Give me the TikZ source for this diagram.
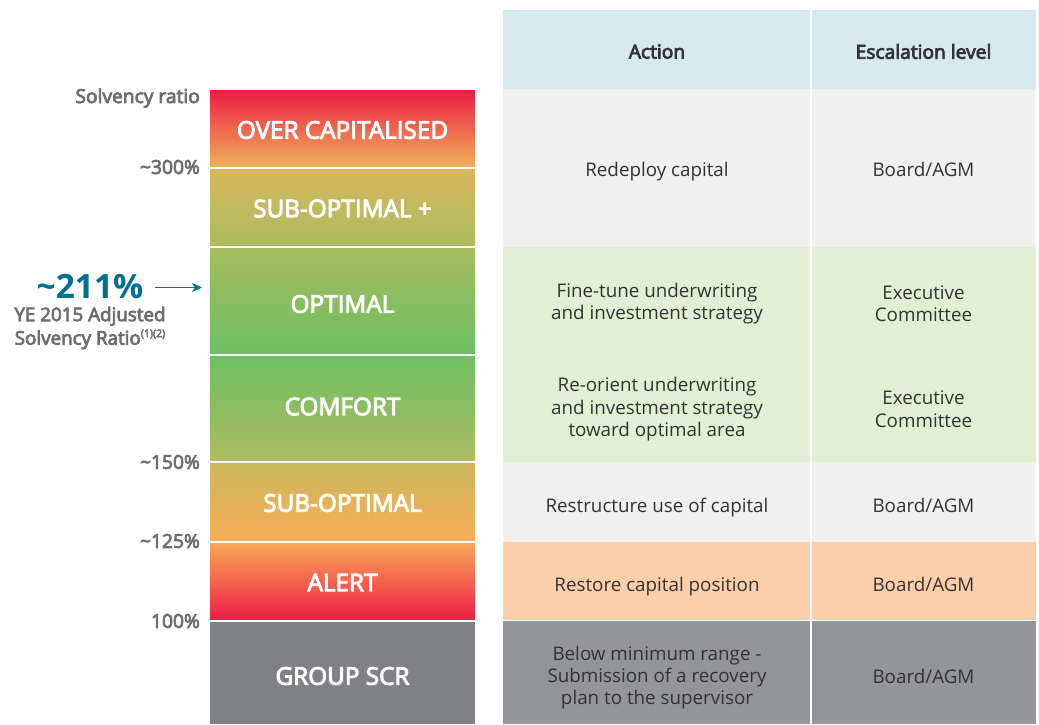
\documentclass[tikz,border=0pt]{standalone}
\usepackage{fontspec}
\setmainfont{Open Sans}
\newfontfamily\sbfont{Open Sans}[FakeBold=4]
\usetikzlibrary{arrows.meta}
\definecolor{cRed}{HTML}{EC1C45}
\definecolor{cOrange}{HTML}{F8AB57}
\definecolor{cOcBot}{HTML}{EFB25A}
\definecolor{cSopTop}{HTML}{D9B65D}
\definecolor{cSopBot}{HTML}{A9BD5F}
\definecolor{cOptTop}{HTML}{A7BD5E}
\definecolor{cOptBot}{HTML}{6CBE63}
\definecolor{cComTop}{HTML}{6DBF63}
\definecolor{cComBot}{HTML}{AEBC60}
\definecolor{cSubTop}{HTML}{C9B75D}
\definecolor{cSubBot}{HTML}{FAAE56}
\definecolor{cAlTop}{HTML}{FAA857}
\definecolor{cAlMid}{HTML}{F4875A}
\definecolor{cScr}{HTML}{808184}
\definecolor{cLabel}{HTML}{6D6E71}
\definecolor{cTeal}{HTML}{00708F}
\definecolor{cHdr}{HTML}{D8E8EF}
\definecolor{cGrayRow}{HTML}{EFF0EF}
\definecolor{cGreenRow}{HTML}{E2EFD4}
\definecolor{cPeach}{HTML}{FCCFAA}
\definecolor{cDarkRow}{HTML}{939598}
\definecolor{cText}{HTML}{333333}
\tikzset{
  zone/.style={rectangle, inner sep=0pt, outer sep=0pt, minimum width=265pt},
  zonetext/.style={text=white, inner sep=0pt, font=\sbfont\fontsize{24.3}{26}\selectfont},
  sepline/.style={white, line width=2pt},
  scale lbl/.style={anchor=east, text=cLabel, inner sep=0pt, font=\sbfont\fontsize{19.2}{20}\selectfont},
  cell/.style={rectangle, inner sep=0pt, outer sep=0pt},
  celltext/.style={align=center, text=cText, inner sep=0pt, font=\fontsize{18.8}{22.2}\selectfont},
  hdrtext/.style={align=center, text=cText, inner sep=0pt, font=\sbfont\fontsize{19.2}{22}\selectfont},
  acol/.style={minimum width=308pt},
  ecol/.style={minimum width=225pt},
  vsep/.style={white, line width=1.5pt}
}
\begin{document}
\begin{tikzpicture}[x=1pt,y=-1pt]
\useasboundingbox[fill=white] (0,0) rectangle (1039,724);
% left bar
\node[zone, minimum height=78pt, top color=cRed, middle color=cOrange, bottom color=cOcBot,
  label={[zonetext, yshift=-1pt]center:OVER CAPITALISED}] (oc) at (342.5,129) {};
\node[zone, minimum height=79pt, top color=cSopTop, bottom color=cSopBot,
  label={[zonetext, yshift=-1pt]center:SUB-OPTIMAL +}] (sop) at (342.5,207.5) {};
\node[zone, minimum height=108pt, top color=cOptTop, bottom color=cOptBot,
  label={[zonetext, yshift=-3pt]center:OPTIMAL}] (opt) at (342.5,301) {};
\node[zone, minimum height=107pt, top color=cComTop, bottom color=cComBot,
  label={[zonetext, yshift=2pt]center:COMFORT}] (com) at (342.5,408.5) {};
\node[zone, minimum height=80pt, top color=cSubTop, bottom color=cSubBot,
  label={[zonetext, yshift=-1pt]center:SUB-OPTIMAL}] (sub) at (342.5,502) {};
\node[zone, minimum height=79pt, top color=cAlTop, middle color=cAlMid, bottom color=cRed,
  label={[zonetext, yshift=-1pt]center:ALERT}] (al) at (342.5,581.5) {};
\node[zone, minimum height=103pt, fill=cScr,
  label={[zonetext, yshift=-3.5pt]center:GROUP SCR}] (scr) at (342.5,672.5) {};
\draw[sepline] (oc.south west) -- (oc.south east);
\draw[sepline] (sop.south west) -- (sop.south east);
\draw[sepline] (opt.south west) -- (opt.south east);
\draw[sepline] (com.south west) -- (com.south east);
\draw[sepline] (sub.south west) -- (sub.south east);
\draw[sepline] (al.south west) -- (al.south east);
% scale labels
\node[scale lbl] (lsr) at (200,98) {Solvency ratio};
\node[scale lbl] (l300) at (200,167) {\textasciitilde300\%};
\node[scale lbl] (l150) at (200,462) {\textasciitilde150\%};
\node[scale lbl] (l125) at (200,541) {\textasciitilde125\%};
\node[scale lbl] (l100) at (200,621) {100\%};
% current ratio
\node[inner sep=0pt, text=cTeal, font=\bfseries\fontsize{33.5}{36}\selectfont] (val) at (90,286.5) {\textasciitilde211\%};
\node[inner sep=0pt, text=cLabel, align=center, font=\sbfont\fontsize{18.8}{23.5}\selectfont] (ye) at (90,328)
  {YE 2015 Adjusted\\Solvency Ratio\raisebox{0.75ex}{\fontsize{10.5}{10.5}\selectfont(1)(2)}};
\coordinate (arS) at ([xshift=11pt,yshift=-1pt]val.east);
\path (arS -| opt.west) coordinate (arT);
\draw[cTeal, line width=1.5pt, -{Stealth[length=10pt,width=9pt,inset=3pt]}] (arS) -- ([xshift=-8pt]arT);
% table
\node[cell, acol, fill=cHdr, minimum height=79pt, label={[hdrtext, yshift=-2pt]center:Action}] (hA) at (657,49.5) {};
\node[cell, ecol, fill=cHdr, minimum height=79pt, label={[hdrtext, yshift=-2pt]center:Escalation level}] (hE) at (923.5,49.5) {};
\node[cell, acol, fill=cGrayRow, minimum height=158pt, label={[celltext, yshift=-4pt]center:Redeploy capital}] (a1) at (657,168) {};
\node[cell, ecol, fill=cGrayRow, minimum height=158pt, label={[celltext, yshift=-1pt]center:Board/AGM}] (e1) at (923.5,168) {};
\node[cell, acol, fill=cGreenRow, minimum height=107.5pt, label={[celltext, yshift=-3pt]center:Fine-tune underwriting\\and investment strategy}] (a2) at (657,300.75) {};
\node[cell, ecol, fill=cGreenRow, minimum height=107.5pt, label={[celltext, yshift=-3pt]center:Executive\\Committee}] (e2) at (923.5,300.75) {};
\node[cell, acol, fill=cGreenRow, minimum height=107.5pt, label={[celltext, yshift=-1pt]center:Re-orient underwriting\\and investment strategy\\toward optimal area}] (a3) at (657,408.25) {};
\node[cell, ecol, fill=cGreenRow, minimum height=107.5pt, label={[celltext, yshift=-1pt]center:Executive\\Committee}] (e3) at (923.5,408.25) {};
\node[cell, acol, fill=cGrayRow, minimum height=79.5pt, label={[celltext, yshift=-6pt]center:Restructure use of capital}] (a4) at (657,501.75) {};
\node[cell, ecol, fill=cGrayRow, minimum height=79.5pt, label={[celltext, yshift=-4pt]center:Board/AGM}] (e4) at (923.5,501.75) {};
\node[cell, acol, fill=cPeach, minimum height=79pt, label={[celltext, yshift=-6pt]center:Restore capital position}] (a5) at (657,581) {};
\node[cell, ecol, fill=cPeach, minimum height=79pt, label={[celltext, yshift=-3pt]center:Board/AGM}] (e5) at (923.5,581) {};
\node[cell, acol, fill=cDarkRow, minimum height=103.5pt, label={[celltext, yshift=-5.5pt]center:Below minimum range -\\Submission of a recovery\\plan to the supervisor}] (a6) at (657,672.25) {};
\node[cell, ecol, fill=cDarkRow, minimum height=103.5pt, label={[celltext, yshift=-4.5pt]center:Board/AGM}] (e6) at (923.5,672.25) {};
\draw[vsep] (hA.north east) -- (a6.south east);
\draw[white, line width=0.8pt] (a6.north west) -- (e6.north east);
\end{tikzpicture}
\end{document}
